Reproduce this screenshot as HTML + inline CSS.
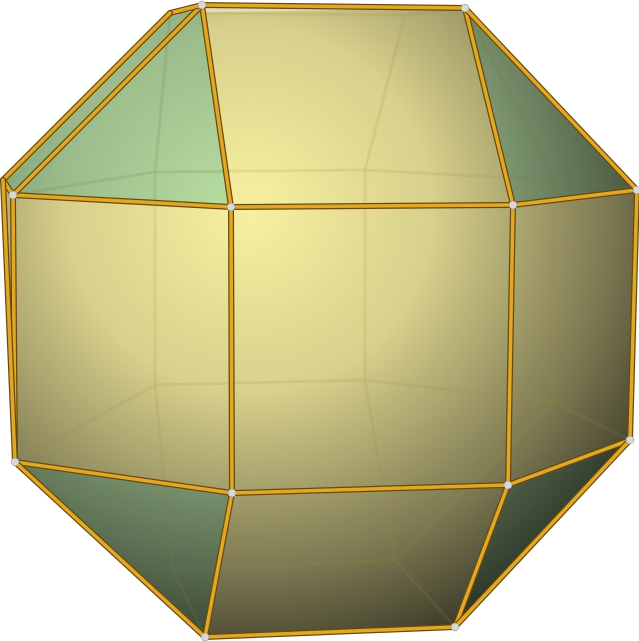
<!DOCTYPE html>
<html><head><meta charset="utf-8">
<style>html,body{margin:0;padding:0;background:#fff;width:639px;height:641px;overflow:hidden}</style>
</head><body>
<svg id="poly" width="639" height="641" viewBox="0 0 639 641" xmlns="http://www.w3.org/2000/svg">
<defs>
<radialGradient id="yel" cx="250" cy="210" r="520" gradientUnits="userSpaceOnUse">
<stop offset="0" stop-color="#f8f0a0"/><stop offset="0.35" stop-color="#d8d08c"/><stop offset="0.7" stop-color="#7a7650"/><stop offset="1" stop-color="#1a1a14"/>
</radialGradient>
<radialGradient id="grn" cx="220" cy="200" r="520" gradientUnits="userSpaceOnUse">
<stop offset="0" stop-color="#8cd0a0"/><stop offset="0.45" stop-color="#6aa080"/><stop offset="1" stop-color="#141e18"/>
</radialGradient>
</defs>
</svg>
<script>
const vertexNames=['P1','P2','P3','P4','P5','P6','P7','P8','P9','P10','P11','P12','B1','B2'];
const vertexX=[202,465,231,513,13,637,630,508,232,15,205,455,170,3];
const vertexY=[5,8,207,205,195,190,440,485,493,462,637,627,13,180];
const faces=[
 {v:[12,0,2,4,13],c:'grn'},{v:[1,5,3],c:'grn'},{v:[9,8,10],c:'grn'},{v:[7,6,11],c:'grn'},
 {v:[0,1,3,2],c:'yel'},{v:[2,3,7,8],c:'yel'},{v:[4,2,8,9],c:'yel'},{v:[3,5,6,7],c:'yel'},{v:[8,7,11,10],c:'yel'},{v:[13,4,9],c:'yel'}];
const backX=[155,365,555,155,365,553,405,395,173];
const backY=[172,170,180,385,380,402,15,560,570];
const backEdges=[[0,1],[1,2],[0,3],[1,4],[2,5],[3,4],[4,5],[1,6],[4,7],[3,8],[5,7],[8,7]];
const backToFront=[[0,4],[0,12],[2,5],[2,1],[6,1],[6,12],[3,9],[5,6],[7,11],[8,10]];
const edges=[[0,1],[0,2],[1,3],[2,3],[2,4],[3,5],[0,4],[0,12],[12,13],[13,4],[1,5],[5,6],[3,7],[2,8],[7,8],[4,9],[9,8],[6,7],[9,10],[8,10],[7,11],[6,11],[10,11],[13,9]];
const svg=document.getElementById('poly');
const NS='http://www.w3.org/2000/svg';
const X=i=>vertexX[i],Y=i=>vertexY[i];
const sil=document.createElementNS(NS,'polygon');


sil.setAttribute('points',[12,1,5,6,11,10,9,13].map(i=>X(i)+','+Y(i)).join(' '));
sil.setAttribute('fill','url(#yel)');svg.appendChild(sil);
function backLine(x1,y1,x2,y2){const l=document.createElementNS(NS,'line');


l.setAttribute('x1',x1);l.setAttribute('y1',y1);l.setAttribute('x2',x2);l.setAttribute('y2',y2);
l.setAttribute('stroke','#a08a3a');l.setAttribute('stroke-opacity','0.4');l.setAttribute('stroke-width','3');svg.appendChild(l);}
backEdges.forEach(e=>backLine(backX[e[0]],backY[e[0]],backX[e[1]],backY[e[1]]));
backToFront.forEach(e=>backLine(backX[e[0]],backY[e[0]],X(e[1]),Y(e[1])));
faces.forEach((f,k)=>{const p=document.createElementNS(NS,'polygon');


p.setAttribute('points',f.v.map(i=>X(i)+','+Y(i)).join(' '));
p.setAttribute('fill','url(#'+f.c+')');p.setAttribute('fill-opacity','0.6');svg.appendChild(p);});
edges.forEach(e=>{const l=document.createElementNS(NS,'line');


l.setAttribute('x1',X(e[0]));l.setAttribute('y1',Y(e[0]));l.setAttribute('x2',X(e[1]));l.setAttribute('y2',Y(e[1]));
l.setAttribute('stroke','#6a4a08');l.setAttribute('stroke-width','6');l.setAttribute('stroke-linecap','round');svg.appendChild(l);
const m=document.createElementNS(NS,'line');


m.setAttribute('x1',X(e[0]));m.setAttribute('y1',Y(e[0]));m.setAttribute('x2',X(e[1]));m.setAttribute('y2',Y(e[1]));
m.setAttribute('stroke','#e0a828');m.setAttribute('stroke-width','3.5');m.setAttribute('stroke-linecap','round');svg.appendChild(m);});
[0,1,2,3,4,5,6,7,8,9,10,11].forEach(i=>{const c=document.createElementNS(NS,'circle');


c.setAttribute('cx',X(i));c.setAttribute('cy',Y(i));c.setAttribute('r','4');c.setAttribute('fill','#d8d8d8');c.setAttribute('stroke','#888');c.setAttribute('stroke-width','0.5');svg.appendChild(c);});
</script>
</body></html>
